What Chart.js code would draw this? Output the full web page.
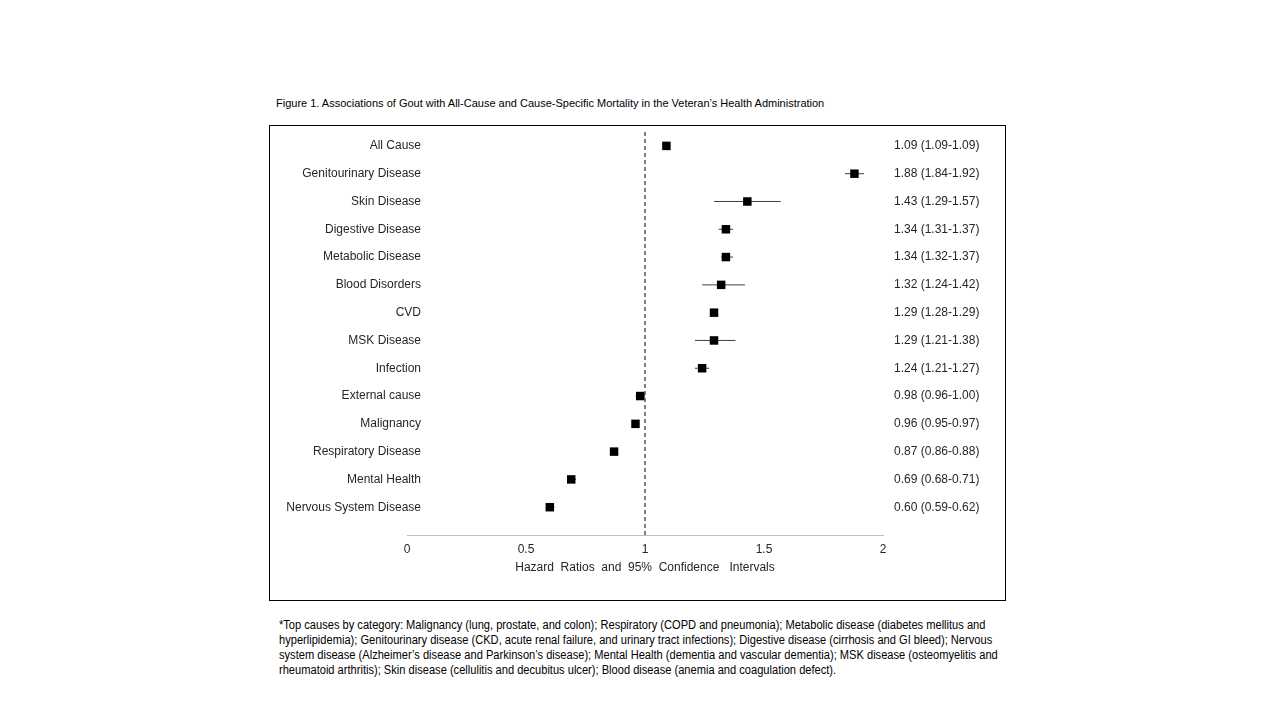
<!DOCTYPE html>
<html>
<head>
<meta charset="utf-8">
<script src="https://cdn.jsdelivr.net/npm/chart.js@4"></script>
<style>
  body { margin: 0; width: 1280px; height: 720px; background: #fff; position: relative; overflow: hidden; }
  #figTitle { position: absolute; left: 276px; top: 97px; font: 11px "Liberation Sans", Arial, sans-serif; color: #000; white-space: nowrap; }
  #box { position: absolute; left: 269px; top: 125px; width: 737px; height: 476px; border: 1.5px solid #000; box-sizing: border-box; }
  #wrap { position: absolute; left: 270px; top: 126px; width: 735px; height: 474px; }
  #note { position: absolute; left: 279px; top: 618px; font: 12px "Liberation Sans", Arial, sans-serif; line-height: 15px; color: #000; white-space: nowrap; transform: scaleX(0.925); transform-origin: left top; }
</style>
</head>
<body>
<div id="figTitle">Figure 1. Associations of Gout with All-Cause and Cause-Specific Mortality in the Veteran’s Health Administration</div>
<div id="box"></div>
<div id="wrap"><canvas id="forestChart"></canvas></div>
<div id="note">*Top causes by category: Malignancy (lung, prostate, and colon); Respiratory (COPD and pneumonia); Metabolic disease (diabetes mellitus and<br>hyperlipidemia); Genitourinary disease (CKD, acute renal failure, and urinary tract infections); Digestive disease (cirrhosis and GI bleed); Nervous<br>system disease (Alzheimer’s disease and Parkinson’s disease); Mental Health (dementia and vascular dementia); MSK disease (osteomyelitis and<br>rheumatoid arthritis); Skin disease (cellulitis and decubitus ulcer); Blood disease (anemia and coagulation defect).</div>
<script>
/* Forest plot: hazard ratios + 95% CI */
const causes = ['All Cause', 'Genitourinary Disease', 'Skin Disease', 'Digestive Disease', 'Metabolic Disease',
  'Blood Disorders', 'CVD', 'MSK Disease', 'Infection', 'External cause', 'Malignancy',
  'Respiratory Disease', 'Mental Health', 'Nervous System Disease'];
const hr = [1.09, 1.88, 1.43, 1.34, 1.34, 1.32, 1.29, 1.29, 1.24, 0.98, 0.96, 0.87, 0.69, 0.60];
const ciLow = [1.09, 1.84, 1.29, 1.31, 1.32, 1.24, 1.28, 1.21, 1.21, 0.96, 0.95, 0.86, 0.68, 0.59];
const ciHigh = [1.09, 1.92, 1.57, 1.37, 1.37, 1.42, 1.29, 1.38, 1.27, 1.00, 0.97, 0.88, 0.71, 0.62];
const ciText = ['1.09 (1.09-1.09)', '1.88 (1.84-1.92)', '1.43 (1.29-1.57)', '1.34 (1.31-1.37)', '1.34 (1.32-1.37)',
  '1.32 (1.24-1.42)', '1.29 (1.28-1.29)', '1.29 (1.21-1.38)', '1.24 (1.21-1.27)', '0.98 (0.96-1.00)',
  '0.96 (0.95-0.97)', '0.87 (0.86-0.88)', '0.69 (0.68-0.71)', '0.60 (0.59-0.62)'];
const xTicks = [0, 0.5, 1, 1.5, 2];

const yMin = -0.5, yMax = 14;

const points = hr.map((v, i) => ({ x: v, y: i }));
const ciSegs = [];
ciLow.forEach((lo, i) => {
  ciSegs.push({ x: lo, y: i }, { x: ciHigh[i], y: i }, { x: null, y: null });
});

const fontFamily = 'Liberation Sans, Arial, sans-serif';
const tickFont = { family: fontFamily, size: 12 };

// left labels sit inside the plot a bit (right edge ~14px past x=0), so use mirror + far align
const m = document.createElement('canvas').getContext('2d');
m.font = '12px ' + fontFamily;
const widest = Math.max(...causes.map(c => m.measureText(c).width));

const rowTicks = s => { s.ticks = causes.map((c, i) => ({ value: i })); };
const noPad = s => { s.paddingTop = 0; s.paddingBottom = 0; };

const ctx = document.getElementById('forestChart').getContext('2d');
const forestChart = new Chart(ctx, {
  type: 'scatter',
  data: {
    datasets: [{
      label: 'HR',
      data: points,
      pointStyle: 'rect',
      pointRadius: 6,
      pointHoverRadius: 6,
      backgroundColor: '#000',
      borderWidth: 0
    }, {
      label: 'CI',
      data: ciSegs,
      showLine: true,
      spanGaps: false,
      pointRadius: 0,
      borderColor: '#404040',
      borderWidth: 1
    }, {
      label: 'ref',
      data: [{ x: 1, y: yMin }, { x: 1, y: yMax }],
      showLine: true,
      pointRadius: 0,
      borderColor: '#000',
      borderWidth: 1,
      borderDash: [4, 3]
    }]
  },
  options: {
    responsive: true,
    maintainAspectRatio: false,
    animation: false,
    layout: { padding: { top: 2, left: 0, right: 0, bottom: 0 } },
    plugins: {
      legend: { display: false },
      tooltip: { enabled: false }
    },
    scales: {
      x: {
        type: 'linear',
        min: 0,
        max: 2,
        afterBuildTicks: s => { s.ticks = xTicks.map(v => ({ value: v })); },
        afterFit: s => { s.height = 65; s.paddingLeft = 0; s.paddingRight = 0; },
        ticks: { color: '#262626', font: tickFont, padding: 7, callback: v => String(v) },
        grid: { display: false, drawTicks: false },
        border: { display: true, color: '#bfbfbf', width: 1 },
        title: {
          display: true,
          text: 'Hazard  Ratios  and  95%  Confidence   Intervals',
          color: '#262626',
          font: tickFont,
          padding: { top: 0, bottom: 25 }
        }
      },
      y: {
        type: 'linear',
        position: 'left',
        reverse: true,
        min: yMin,
        max: yMax,
        afterBuildTicks: rowTicks,
        afterFit: s => { s.width = 137; noPad(s); },
        ticks: { color: '#262626', font: tickFont, mirror: true, crossAlign: 'far', padding: 14 - widest, callback: v => causes[v] },
        grid: { display: false, drawTicks: false },
        border: { display: false }
      },
      y2: {
        type: 'linear',
        position: 'right',
        reverse: true,
        min: yMin,
        max: yMax,
        afterBuildTicks: rowTicks,
        afterFit: s => { s.width = 122; noPad(s); },
        ticks: { color: '#262626', font: tickFont, padding: 11, callback: v => ciText[v] },
        grid: { display: false, drawTicks: false },
        border: { display: false }
      }
    }
  }
});
</script>
</body>
</html>
